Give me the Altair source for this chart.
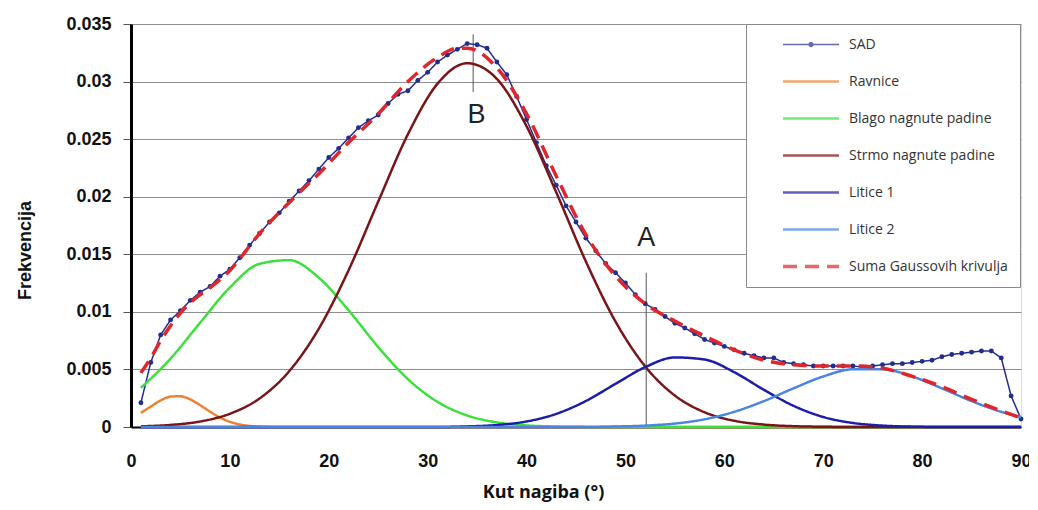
import altair as alt
import pandas as pd

# ---------------- data ----------------
SAD_X = list(range(1, 91))
SAD_Y = [0.0021, 0.0056, 0.0080, 0.0093, 0.0101, 0.0110, 0.0117, 0.0122, 0.0131, 0.0137,
         0.0147, 0.0158, 0.0168, 0.0178, 0.0186, 0.0196, 0.0205, 0.0214, 0.0224, 0.0234,
         0.0242, 0.0251, 0.0260, 0.0266, 0.0271, 0.0281, 0.0289, 0.0292, 0.0301, 0.0308,
         0.0317, 0.0323, 0.0328, 0.0333, 0.0332, 0.0329, 0.0317, 0.0306, 0.0287, 0.0267,
         0.0247, 0.0227, 0.0210, 0.0192, 0.0178, 0.0164, 0.0153, 0.0142, 0.0134, 0.0125,
         0.0115, 0.0107, 0.0102, 0.0096, 0.0090, 0.0086, 0.0081, 0.0076, 0.0073, 0.0070,
         0.0067, 0.0064, 0.0062, 0.0060, 0.0060, 0.0056, 0.0055, 0.0054, 0.0053, 0.0053,
         0.0053, 0.0053, 0.0053, 0.0052, 0.0053, 0.0054, 0.0055, 0.0055, 0.0056, 0.0057,
         0.0058, 0.0061, 0.0063, 0.0064, 0.0065, 0.0066, 0.0066, 0.0060, 0.0027, 0.0007]

RAV_X = [1, 2, 3, 4, 5, 6, 7, 8, 9, 10, 11, 12, 13, 14, 90]
RAV_Y = [0.00122, 0.00178, 0.00231, 0.00264, 0.00267, 0.00239, 0.00189, 0.00133,
         0.00082, 0.00045, 0.00022, 0.00009, 0.00004, 0.00001, 0.0]

COMP_X = [1, 4, 7, 10, 13, 16, 19, 22, 25, 28, 31, 34, 37, 40, 43, 46, 49, 52, 55, 58,
          61, 64, 67, 70, 73, 76, 79, 82, 85, 88, 90]
BLAGO_Y = [0.00340, 0.00594, 0.00907, 0.01212, 0.01417, 0.01449, 0.01296, 0.01014,
           0.00694, 0.00416, 0.00218, 0.00100, 0.00040, 0.00014, 0.00004, 0.00001,
           0, 0, 0, 0, 0, 0, 0, 0, 0, 0, 0, 0, 0, 0, 0]
STRMO_Y = [0.00006, 0.00018, 0.00048, 0.00115, 0.00248, 0.00485, 0.00855, 0.01361,
           0.01958, 0.02542, 0.02982, 0.03159, 0.03023, 0.02612, 0.02039, 0.01437,
           0.00915, 0.00526, 0.00273, 0.00128, 0.00054, 0.00021, 0.00007, 0.00002,
           0, 0, 0, 0, 0, 0, 0]
LIT1_Y = [0, 0, 0, 0, 0, 0, 0, 0, 0, 0, 0,
          0.00005, 0.00017, 0.00048, 0.00114, 0.00226, 0.00375, 0.00520, 0.00604,
          0.00586, 0.00476, 0.00323, 0.00184, 0.00087, 0.00035, 0.00012, 0.00003,
          0, 0, 0, 0]
LIT2_Y = [0, 0, 0, 0, 0, 0, 0, 0, 0, 0, 0, 0, 0, 0, 0, 0,
          0.00004, 0.00012, 0.00030, 0.00067, 0.00132, 0.00225, 0.00336, 0.00439,
          0.00501, 0.00501, 0.00439, 0.00336, 0.00225, 0.00132, 0.00085]

SUMA_X = [1, 2, 3, 4, 5, 6, 7, 8, 10, 13, 16, 19, 22, 25, 28, 31, 33, 34, 37, 40, 43,
          46, 49, 52, 55, 58, 61, 64, 67, 70, 73, 76, 79, 82, 85, 88, 90]
SUMA_Y = [0.0047, 0.0060, 0.0075, 0.0088, 0.0099, 0.0108, 0.0115, 0.0121, 0.0136,
          0.0168, 0.0195, 0.0220, 0.0247, 0.0272, 0.0300, 0.0321, 0.0329, 0.0329,
          0.0312, 0.0272, 0.0218, 0.0167, 0.0131, 0.0107, 0.0092, 0.0079, 0.0067,
          0.0058, 0.0054, 0.0053, 0.0053, 0.0051, 0.0044, 0.0035, 0.0024, 0.0014,
          0.0008]

NAMES = ["SAD", "Ravnice", "Blago nagnute padine", "Strmo nagnute padine",
         "Litice 1", "Litice 2", "Suma Gaussovih krivulja"]
COLORS = ["#232d8e", "#ec8232", "#3ce03c", "#7a1517", "#1d1da8", "#4b84e3", "#e0262a"]
DASHES = [[1, 0], [1, 0], [1, 0], [1, 0], [1, 0], [1, 0], [14, 8]]
WIDTHS = [1.5, 2.5, 2.5, 2.5, 2.5, 2.5, 3.5]
# legend glyphs: a line with a marker dot for SAD, plain lines for the others
DOT = ("M-1,0L1,0"
       "M0.07,0A0.07,0.07,0,1,1,-0.07,0A0.07,0.07,0,1,1,0.07,0"
       "M0.045,0A0.045,0.045,0,1,1,-0.045,0A0.045,0.045,0,1,1,0.045,0"
       "M0.02,0A0.02,0.02,0,1,1,-0.02,0A0.02,0.02,0,1,1,0.02,0")
SHAPES = [DOT, "stroke", "stroke", "stroke", "stroke", "stroke", "stroke"]

X_TICKS = [0, 10, 20, 30, 40, 50, 60, 70, 80, 90]
Y_TICKS = [0, 0.005, 0.01, 0.015, 0.02, 0.025, 0.03, 0.035]

ANNOT_TEXT = ["A", "B"]
ANNOT_X = [52.1, 34.95]
ANNOT_Y = [0.0164, 0.0271]
RULE_X = [52.1, 34.6]
RULE_Y1 = [0.0, 0.0291]
RULE_Y2 = [0.0134, 0.0341]

# ---------------- encodings ----------------
x_enc = alt.X("x:Q",
              scale=alt.Scale(domain=[0, 90], nice=False, zero=False),
              axis=alt.Axis(values=X_TICKS, grid=False, ticks=False, labelPadding=25,
                            labelFlush=False,
                            labelFont="Liberation Sans", labelFontSize=18,
                            labelFontWeight="bold", labelColor="#111",
                            domainColor="black", domainWidth=2,
                            title="Kut nagiba (°)", titleFont="Open Sans",
                            titleFontSize=18, titleFontWeight="bold", titleColor="#111",
                            titleX=412, titleY=65, titleBaseline="middle"))
y_enc = alt.Y("y:Q",
              scale=alt.Scale(domain=[0, 0.035], nice=False),
              axis=alt.Axis(values=Y_TICKS, format=".3~f", grid=True,
                            gridColor="#8f8f8f", gridWidth=1,
                            ticks=True, tickSize=8, tickColor="#555",
                            labelPadding=12, labelFont="Liberation Sans",
                            labelFontSize=18, labelFontWeight="bold", labelColor="#111",
                            domainColor="black", domainWidth=3,
                            title="Frekvencija", titleFont="Liberation Sans",
                            titleFontSize=18, titleFontWeight="bold", titleColor="#111",
                            titleX=-106, titleY=226, titleBaseline="middle"))

color_scale = alt.Scale(domain=NAMES, range=COLORS)
dash_scale = alt.Scale(domain=NAMES, range=DASHES)
width_scale = alt.Scale(type="ordinal", domain=NAMES, range=WIDTHS)
shape_scale = alt.Scale(domain=NAMES, range=SHAPES)
legend = alt.Legend(orient="none", legendX=615, legendY=0, title=None,
                    fillColor="white", strokeColor="#8a8a8a", padding=12,
                    labelFont="Open Sans", labelFontSize=14, labelColor="#333",
                    symbolType="stroke", symbolStrokeWidth=3, symbolSize=3136,
                    symbolFillColor="transparent",
                    clipHeight=17, symbolOffset=23, labelOffset=8, rowPadding=20)


def line_layer(name, xs, ys, interp):
    df = pd.DataFrame({"x": xs, "y": ys, "serija": [name] * len(xs)})
    return alt.Chart(df).mark_line(interpolate=interp).encode(
        x=x_enc, y=y_enc,
        color=alt.Color("serija:N", scale=color_scale, legend=legend),
        strokeDash=alt.StrokeDash("serija:N", scale=dash_scale, legend=legend),
        strokeWidth=alt.StrokeWidth("serija:N", scale=width_scale, legend=legend),
    )


sad_df = pd.DataFrame({"x": SAD_X, "y": SAD_Y})
# carries only the legend glyph shapes; its single point lies outside the plot and is clipped
glyph_df = pd.DataFrame({"x": [45.0], "y": [-1.0], "serija": ["SAD"]})
glyph_layer = alt.Chart(glyph_df).mark_point(clip=True).encode(
    x=x_enc, y=y_enc,
    shape=alt.Shape("serija:N", scale=shape_scale, legend=legend),
)

layers = [
    line_layer("SAD", SAD_X, SAD_Y, "linear"),
    alt.Chart(sad_df).mark_point(filled=True, size=24, opacity=1, color=COLORS[0])
    .encode(x=x_enc, y=y_enc),
    line_layer("Ravnice", RAV_X, RAV_Y, "monotone"),
    line_layer("Blago nagnute padine", COMP_X, BLAGO_Y, "monotone"),
    line_layer("Strmo nagnute padine", COMP_X, STRMO_Y, "monotone"),
    line_layer("Litice 1", COMP_X, LIT1_Y, "monotone"),
    line_layer("Litice 2", COMP_X, LIT2_Y, "monotone"),
    line_layer("Suma Gaussovih krivulja", SUMA_X, SUMA_Y, "monotone"),
    glyph_layer,
]

rule_df = pd.DataFrame({"x": RULE_X, "y": RULE_Y1, "y2": RULE_Y2})
rules = alt.Chart(rule_df).mark_rule(color="#555", strokeWidth=1).encode(
    x=x_enc, y=y_enc, y2="y2:Q")
text_df = pd.DataFrame({"x": ANNOT_X, "y": ANNOT_Y, "t": ANNOT_TEXT})
texts = alt.Chart(text_df).mark_text(font="Liberation Sans", fontSize=27,
                                     color="#222", baseline="middle",
                                     align="center").encode(x=x_enc, y=y_enc, text="t:N")

chart = alt.layer(rules, *layers, texts).properties(
    width=890, height=403,
    padding={"left": 123, "top": 16, "right": 8, "bottom": 75},
    autosize=alt.AutoSizeParams(type="none"),
).configure_view(stroke="black", strokeWidth=3).configure(background="white")

chart.save("out.html", embed_options={"renderer": "svg", "actions": False})
